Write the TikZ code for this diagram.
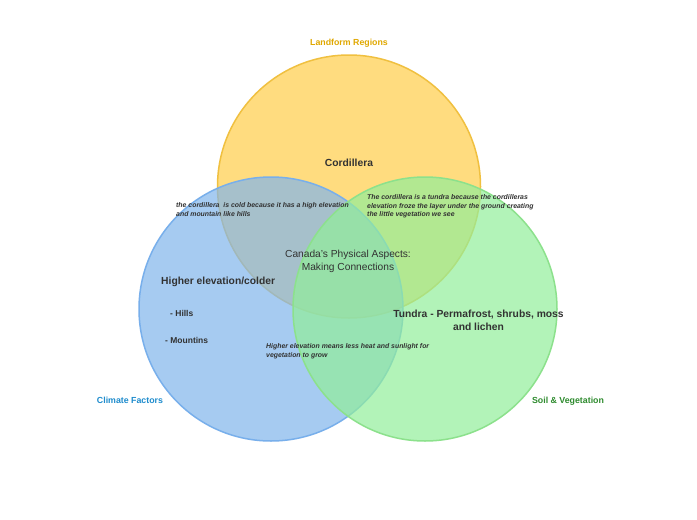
\documentclass[tikz,border=0pt]{standalone}
\usepackage{fontspec}
\setmainfont{Liberation Sans}
\usepackage{tikz}
\usetikzlibrary{positioning}
\definecolor{yelfill}{RGB}{255,206,74}
\definecolor{yeldraw}{RGB}{240,192,64}
\definecolor{blufill}{RGB}{129,181,236}
\definecolor{bludraw}{RGB}{120,175,235}
\definecolor{grnfill}{RGB}{146,238,154}
\definecolor{grndraw}{RGB}{140,225,140}
\definecolor{txt}{RGB}{50,50,50}

\begin{document}
\begin{tikzpicture}[x=1pt, y=-1pt,
  set/.style={line width=1.5pt, fill opacity=0.7},
  title/.style={font=\fontsize{8.8}{10}\selectfont\bfseries},
  head/.style={font=\fontsize{10.3}{13}\selectfont\bfseries, text=txt, align=center, inner sep=0pt},
  note/.style={font=\fontsize{6.9}{8.8}\selectfont\bfseries\itshape, text=txt, align=left, inner sep=0pt, anchor=north west},
  item/.style={font=\fontsize{8.5}{10}\selectfont\bfseries, text=txt, inner sep=0pt, anchor=west}]
\useasboundingbox (0,0) rectangle (697,520);
\fill[white] (0,0) rectangle (697,520);
\draw[set, fill=yelfill, draw=yeldraw] (349,186.5) circle (131.5);
\draw[set, fill=blufill, draw=bludraw] (271,309) circle (132);
\draw[set, fill=grnfill, draw=grndraw] (425,309) circle (132);
\node[title, text={rgb,255:red,224;green,168;blue,0}] (land) at (349,43) {Landform Regions};
\node[title, text={rgb,255:red,30;green,140;blue,205}] (clim) at (130,400) {Climate Factors};
\node[title, text={rgb,255:red,46;green,139;blue,46}] (soil) at (568,401) {Soil \& Vegetation};
\node[head] (cord) at (349,163) {Cordillera};
\node[head, font=\fontsize{10.2}{13}\selectfont] (mid) at (348,261.5) {Canada's Physical Aspects:\\Making Connections};
\node[head, anchor=west] (high) at (161,282) {Higher elevation/colder};
\node[item] (hills) at (170,313) {- Hills};
\node[item] (mount) at (165,340) {- Mountins};
\node[head] (tund) at (478.5,320.5) {Tundra - Permafrost, shrubs, moss\\and lichen};
\node[note] (yb) at (176,202) {the cordillera\ \ is cold because it has a high elevation\\and mountain like hills};
\node[note] (yg) at (367,194) {The cordillera is a tundra because the cordilleras\\elevation froze the layer under the ground creating\\the little vegetation we see};
\node[note] (bg) at (266,343) {Higher elevation means less heat and sunlight for\\vegetation to grow};
\end{tikzpicture}
\end{document}
